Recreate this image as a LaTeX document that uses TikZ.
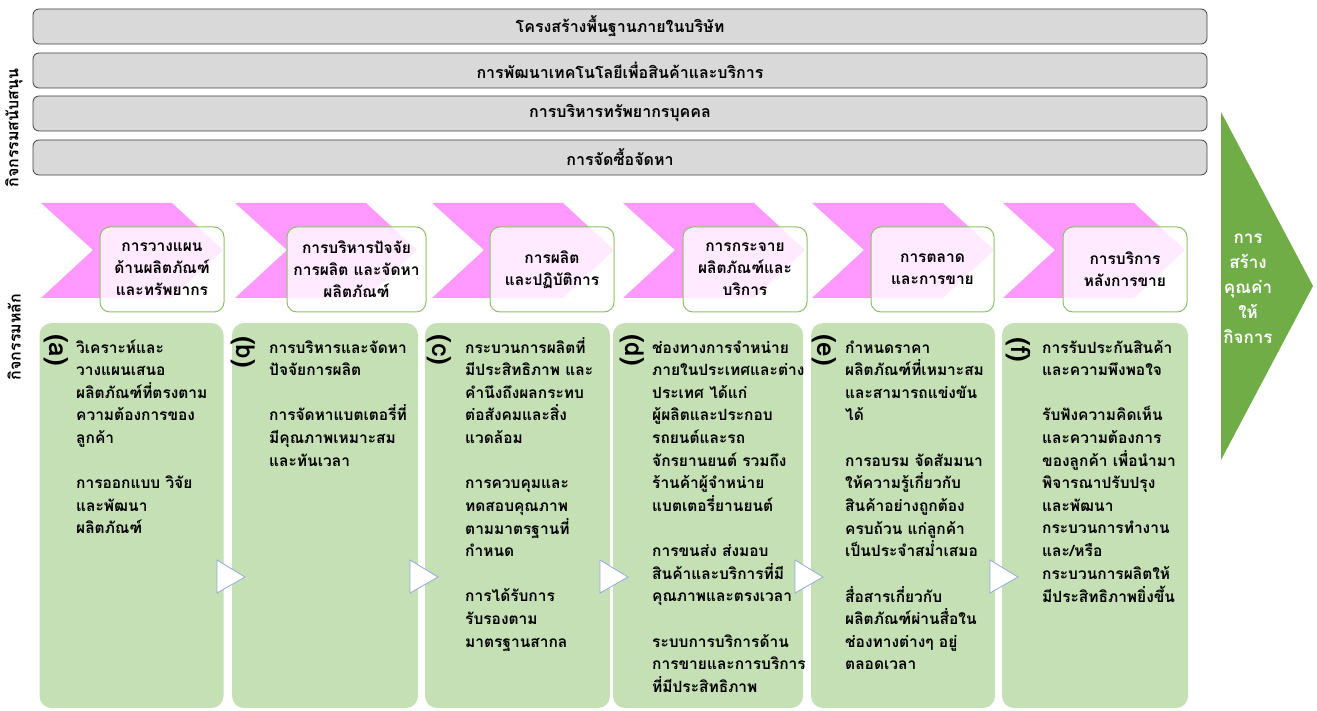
\documentclass[tikz,border=0pt]{standalone}
\usepackage{fontspec}
\newfontfamily\thai[Script=Thai]{Loma}
\definecolor{barfill}{HTML}{D9D9D9}
\definecolor{barline}{HTML}{404040}
\definecolor{pinkc}{HTML}{FF99FF}
\definecolor{hdrline}{HTML}{8CC168}
\definecolor{bodyfill}{HTML}{C5E0B4}
\definecolor{triline}{HTML}{8FAADC}
\definecolor{arrowg}{HTML}{70AD47}
\tikzset{
  bar/.style={draw=barline, line width=0.8pt, fill=barfill, rounded corners=6pt, minimum width=1174, minimum height=35, inner sep=0,
     font=\thai\bfseries\fontsize{16}{20}\selectfont},
  hdr/.style={draw=hdrline, line width=1pt, fill=white, fill opacity=0.8, text opacity=1, rounded corners=10pt, minimum height=85, inner sep=0, align=center,
     font=\thai\bfseries\fontsize{15.5}{22}\selectfont},
  bodybox/.style={fill=bodyfill, rounded corners=12pt, inner sep=0, minimum height=385},
  bodytext/.style={anchor=base west, inner sep=0, font=\thai\bfseries\fontsize{15.5}{22.6}\selectfont},
  letter/.style={rotate=-90, inner sep=0, font=\thai\bfseries\fontsize{26}{28}\selectfont},
  chev/.style={fill=pinkc, draw=none},
  tri/.style={fill=white, draw=triline, line width=0.8pt},
  vlabel/.style={rotate=90, inner sep=0, font=\thai\bfseries\fontsize{16}{18}\selectfont},
}
\newcommand{\chevron}[1]{\fill[pinkc] (#1,203) -- ++(131,0) -- ++(51,47) -- ++(-51,48) -- ++(-131,0) -- ++(52,-48) -- cycle;}
\newcommand{\tritip}[1]{\draw[tri] (#1,560) -- ++(28,17) -- ++(-28,16) -- cycle;}
\newcommand{\lines}[1]{\begin{tabular}[t]{@{}l@{}}#1\end{tabular}}
\begin{document}
\begin{tikzpicture}[x=1pt,y=-1pt]
\useasboundingbox (0,0) rectangle (1317,711);
% support bars
\node[bar] (b1) at (620,26.5) {โครงสร้างพื้นฐานภายในบริษัท};
\node[bar] (b2) at (620,70.5) {การพัฒนาเทคโนโลยีเพื่อสินค้าและบริการ};
\node[bar] (b3) at (620,113.5) {การบริหารทรัพยากรบุคคล};
\node[bar] (b4) at (620,157.5) {การจัดซื้อจัดหา};
% vertical labels
\node[vlabel] (vs) at (14,128) {กิจกรรมสนับสนุน};
\node[vlabel] (vm) at (14,337) {กิจกรรมหลัก};
% chevrons
\chevron{41}
\chevron{235}
\chevron{432}
\chevron{623}
\chevron{812}
\chevron{1003}
% header boxes
\node[hdr, minimum width=124] (h1) at (162,269.5) {การวางแผน\\ด้านผลิตภัณฑ์\\และทรัพยากร};
\node[hdr, minimum width=139] (h2) at (356.5,269.5) {การบริหารปัจจัย\\การผลิต และจัดหา\\ผลิตภัณฑ์};
\node[hdr, minimum width=124] (h3) at (552,269.5) {การผลิต\\และปฏิบัติการ};
\node[hdr, minimum width=124] (h4) at (745,269.5) {การกระจาย\\ผลิตภัณฑ์และ\\บริการ};
\node[hdr, minimum width=123] (h5) at (932.5,269.5) {การตลาด\\และการขาย};
\node[hdr, minimum width=124] (h6) at (1125,269.5) {การบริการ\\หลังการขาย};
% body boxes
\node[bodybox, minimum width=184] (ba) at (131.5,515.5) {};
\node[bodybox, minimum width=186] (bb) at (325,515.5) {};
\node[bodybox, minimum width=185] (bc) at (517.5,515.5) {};
\node[bodybox, minimum width=190] (bd) at (708,515.5) {};
\node[bodybox, minimum width=184] (be) at (903,515.5) {};
\node[bodybox, minimum width=186] (bf) at (1095,515.5) {};
% letters
\node[letter] (la) at (56,350) {(a)};
\node[letter] (lb) at (243,352) {(b)};
\node[letter] (lc) at (439,350) {(c)};
\node[letter] (ld) at (632,350) {(d)};
\node[letter] (le) at (824,350) {(e)};
\node[letter] (lf) at (1018,350) {(f)};
% body texts
\node[bodytext] (ta) at (76,353) {\lines{วิเคราะห์และ\\วางแผนเสนอ\\ผลิตภัณฑ์ที่ตรงตาม\\ความต้องการของ\\ลูกค้า\\ \\การออกแบบ วิจัย\\และพัฒนา\\ผลิตภัณฑ์}};
\node[bodytext] (tb) at (269,353) {\lines{การบริหารและจัดหา\\ปัจจัยการผลิต\\ \\การจัดหาแบตเตอรี่ที่\\มีคุณภาพเหมาะสม\\และทันเวลา}};
\node[bodytext] (tc) at (465,353) {\lines{กระบวนการผลิตที่\\มีประสิทธิภาพ และ\\คำนึงถึงผลกระทบ\\ต่อสังคมและสิ่ง\\แวดล้อม\\ \\การควบคุมและ\\ทดสอบคุณภาพ\\ตามมาตรฐานที่\\กำหนด\\ \\การได้รับการ\\รับรองตาม\\มาตรฐานสากล}};
\node[bodytext] (td) at (652,353) {\lines{ช่องทางการจำหน่าย\\ภายในประเทศและต่าง\\ประเทศ ได้แก่\\ผู้ผลิตและประกอบ\\รถยนต์และรถ\\จักรยานยนต์ รวมถึง\\ร้านค้าผู้จำหน่าย\\แบตเตอรี่ยานยนต์\\ \\การขนส่ง ส่งมอบ\\สินค้าและบริการที่มี\\คุณภาพและตรงเวลา\\ \\ระบบการบริการด้าน\\การขายและการบริการ\\ที่มีประสิทธิภาพ}};
\node[bodytext] (te) at (845,353) {\lines{กำหนดราคา\\ผลิตภัณฑ์ที่เหมาะสม\\และสามารถแข่งขัน\\ได้\\ \\การอบรม จัดสัมมนา\\ให้ความรู้เกี่ยวกับ\\สินค้าอย่างถูกต้อง\\ครบถ้วน แก่ลูกค้า\\เป็นประจำสม่ำเสมอ\\ \\สื่อสารเกี่ยวกับ\\ผลิตภัณฑ์ผ่านสื่อใน\\ช่องทางต่างๆ อยู่\\ตลอดเวลา}};
\node[bodytext] (tf) at (1042,353) {\lines{การรับประกันสินค้า\\และความพึงพอใจ\\ \\รับฟังความคิดเห็น\\และความต้องการ\\ของลูกค้า เพื่อนำมา\\พิจารณาปรับปรุง\\และพัฒนา\\กระบวนการทำงาน\\และ/หรือ\\กระบวนการผลิตให้\\มีประสิทธิภาพยิ่งขึ้น}};
% small triangles
\tritip{217}
\tritip{410}
\tritip{600}
\tritip{795}
\tritip{990}
% value arrow
\fill[arrowg] (1221,112) -- (1313,286) -- (1221,460) -- cycle;
\node[align=center, inner sep=0, text=white, font=\thai\bfseries\fontsize{17}{25}\selectfont] (va) at (1248,289) {การ\\สร้าง\\คุณค่า\\ให้\\กิจการ};
\end{tikzpicture}
\end{document}
